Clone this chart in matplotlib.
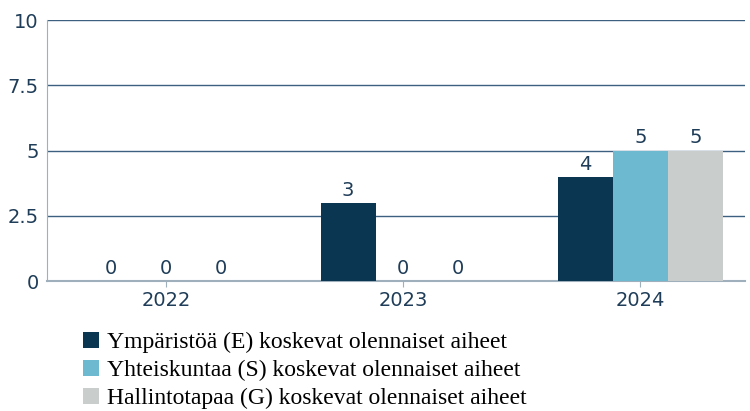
import matplotlib.pyplot as plt
import numpy as np

years = ['2022', '2023', '2024']
env = [0, 3, 4]
soc = [0, 0, 5]
gov = [0, 0, 5]
series_labels = [
    'Ympäristöä (E) koskevat olennaiset aiheet',
    'Yhteiskuntaa (S) koskevat olennaiset aiheet',
    'Hallintotapaa (G) koskevat olennaiset aiheet',
]
colors = ['#0a3652', '#6db9cf', '#c9cecd']
text_color = '#1f3d58'

fig = plt.figure(figsize=(7.5, 4.11), dpi=100)
ax = fig.add_axes([0.063, 0.316, 0.93, 0.635])

x = np.arange(len(years))
width = 0.232
for i, (vals, lab, col) in enumerate(zip([env, soc, gov], series_labels, colors)):
    bars = ax.bar(x + (i - 1) * width, vals, width, color=col, label=lab, zorder=3)
    for b, v in zip(bars, vals):
        ax.text(b.get_x() + b.get_width() / 2, v + 0.12, str(v),
                ha='center', va='bottom', fontsize=14, color=text_color)

ax.set_ylim(0, 10)
ax.set_xlim(-0.5, 2.44)
ax.set_yticks([0, 2.5, 5, 7.5, 10])
ax.set_yticklabels(['0', '2.5', '5', '7.5', '10'])
ax.set_xticks(x)
ax.set_xticklabels(years)
ax.yaxis.grid(True, color='#3d6080', linewidth=1, zorder=0)
ax.tick_params(axis='y', length=0, labelsize=14, labelcolor=text_color, pad=6)
ax.tick_params(axis='x', length=4, color='#9fb0bc', labelsize=14,
               labelcolor=text_color, pad=3)
for s in ['top', 'right']:
    ax.spines[s].set_visible(False)
ax.spines['left'].set_color('#9fb0bc')
ax.spines['bottom'].set_color('#9fb0bc')
ax.spines['bottom'].set_linewidth(1.5)

fig.legend(loc='lower left', bbox_to_anchor=(0.098, -0.018), frameon=False,
           prop={'family': 'Liberation Serif', 'size': 17},
           handlelength=0.68, handleheight=0.68, handletextpad=0.35,
           labelspacing=0.28, borderaxespad=0)

fig.savefig('out.png')
